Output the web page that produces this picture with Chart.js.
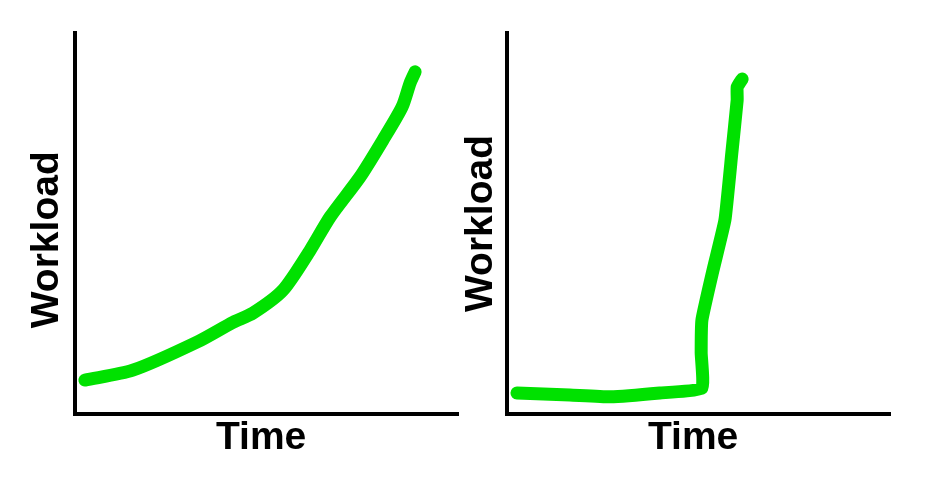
<!DOCTYPE html>
<html>
<head>
<meta charset="utf-8">
<script src="https://cdn.jsdelivr.net/npm/chart.js@4"></script>
<style>
  body { margin: 0; background: #fff; }
  #wrap { position: relative; width: 947px; height: 487px; }
  .box { position: absolute; top: 0; height: 487px; }
  #leftBox { left: 0; width: 470px; }
  #rightBox { left: 440px; width: 507px; }
</style>
</head>
<body>
<div id="wrap">
  <div class="box" id="leftBox"><canvas id="leftChart"></canvas></div>
  <div class="box" id="rightBox"><canvas id="rightChart"></canvas></div>
</div>
<script>
// gradual growth
const leftTime = [2.6, 15.1, 31.9, 41.3, 46.5, 54.3, 61.4, 66.6, 74.4, 80.4, 85.4, 87.5, 88.8];
const leftWorkload = [8.9, 11.5, 18.9, 24.1, 26.5, 32.5, 43.0, 51.7, 62.2, 71.9, 80.6, 86.9, 89.8];

// flat, then sudden spike
const rightTime = [2.6, 16.4, 26.9, 39.9, 50.9, 50.7, 50.9, 53.8, 56.9, 58.7, 60.1, 60.1, 61.4];
const rightWorkload = [5.5, 5.0, 4.5, 5.5, 6.8, 16.0, 24.7, 37.8, 50.9, 68.5, 82.4, 85.8, 87.9];

const xTitle = "Time ";
const yTitleLeft = "Workload   ";
const yTitleRight = "Workload";

const lineColor = "#00E100";
const titleFont = { family: "'Liberation Sans', Arial, sans-serif", size: 39, weight: "bold" };

function makeChart(id, xs, ys, yTitle, opts) {
  new Chart(document.getElementById(id), {
    type: "line",
    data: {
      datasets: [{
        data: xs.map((x, i) => ({ x: x, y: ys[i] })),
        borderColor: lineColor,
        borderWidth: 13,
        borderCapStyle: "round",
        borderJoinStyle: "round",
        tension: opts.tension,
        pointRadius: 0,
        clip: false
      }]
    },
    options: {
      responsive: true,
      maintainAspectRatio: false,
      animation: false,
      layout: { padding: { left: 0, top: 33, right: opts.right, bottom: 0 } },
      plugins: { legend: { display: false }, tooltip: { enabled: false } },
      scales: {
        x: {
          type: "linear", min: 0, max: 100,
          grid: { display: false },
          ticks: { display: false },
          border: { display: true, color: "#000", width: 4 },
          title: { display: true, text: xTitle, color: "#000", font: titleFont, padding: { top: 0, bottom: 25 } },
          afterFit: s => { s.height = 73; }
        },
        y: {
          min: 0, max: 100,
          grid: { display: false },
          ticks: { display: false },
          border: { display: true, color: "#000", width: 4 },
          title: { display: true, text: yTitle, color: "#000", font: titleFont, padding: { top: opts.titlePad, bottom: 0 } },
          afterFit: s => { s.width = opts.yWidth; }
        }
      }
    }
  });
}

makeChart("leftChart", leftTime, leftWorkload, yTitleLeft, { right: 12, yWidth: 75, titlePad: 24, tension: 0.25 });
makeChart("rightChart", rightTime, rightWorkload, yTitleRight, { right: 57, yWidth: 67, titlePad: 18, tension: 0.12 });
</script>
</body>
</html>
